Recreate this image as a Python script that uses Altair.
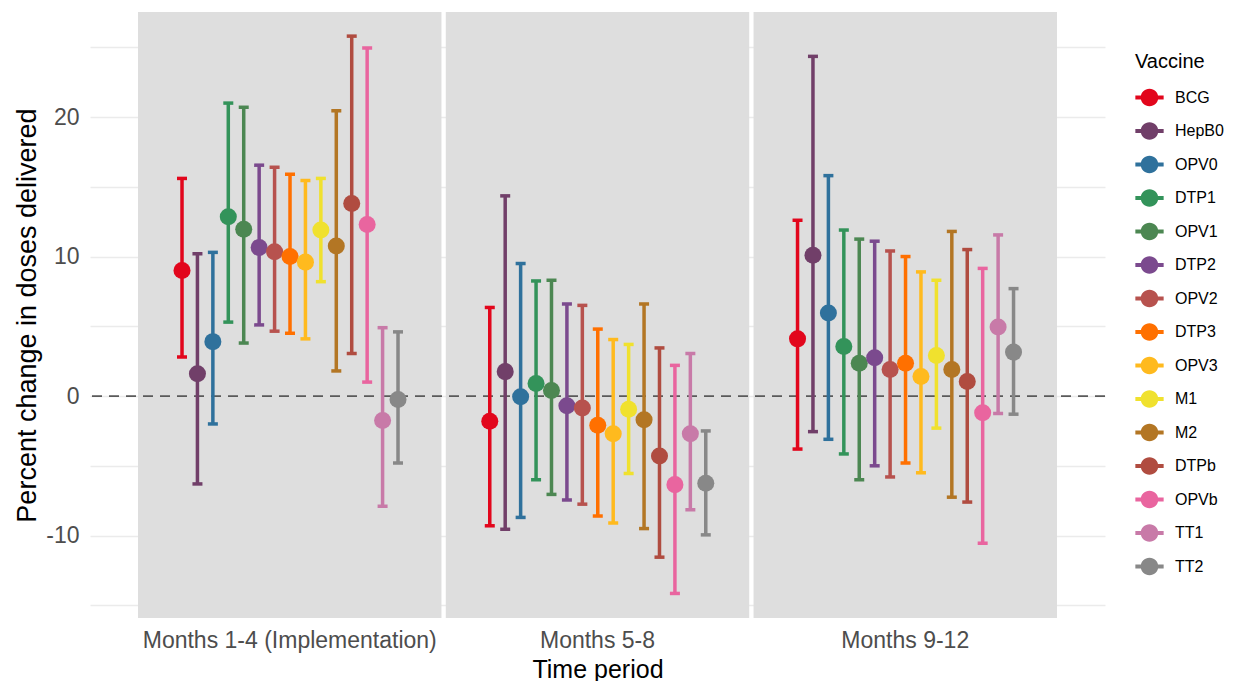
import altair as alt
import pandas as pd

periods = ["Months 1-4 (Implementation)", "Months 5-8", "Months 9-12"]
vaccines = ["BCG", "HepB0", "OPV0", "DTP1", "OPV1", "DTP2", "OPV2", "DTP3",
            "OPV3", "M1", "M2", "DTPb", "OPVb", "TT1", "TT2"]

est_p1 = [9.0, 1.6, 3.9, 12.85, 11.95, 10.65, 10.35, 10.0, 9.6, 11.9, 10.75, 13.8, 12.3, -1.75, -0.25]
lo_p1 = [2.8, -6.3, -2.0, 5.3, 3.8, 5.1, 4.65, 4.5, 4.1, 8.2, 1.8, 3.05, 1.0, -7.9, -4.8]
hi_p1 = [15.6, 10.2, 10.3, 21.0, 20.7, 16.55, 16.4, 15.9, 15.45, 15.6, 20.45, 25.8, 24.95, 4.9, 4.6]

est_p2 = [-1.8, 1.75, -0.05, 0.9, 0.4, -0.7, -0.85, -2.1, -2.7, -0.95, -1.7, -4.3, -6.35, -2.7, -6.25]
lo_p2 = [-9.3, -9.55, -8.7, -6.0, -7.05, -7.45, -7.75, -8.6, -9.1, -5.55, -9.5, -11.55, -14.15, -8.15, -9.95]
hi_p2 = [6.35, 14.35, 9.5, 8.25, 8.3, 6.6, 6.5, 4.8, 4.05, 3.7, 6.6, 3.45, 2.2, 3.05, -2.5]

est_p3 = [4.1, 10.1, 5.95, 3.55, 2.35, 2.75, 1.9, 2.35, 1.4, 2.9, 1.9, 1.05, -1.2, 4.95, 3.15]
lo_p3 = [-3.8, -2.55, -3.1, -4.15, -6.0, -5.0, -5.8, -4.8, -5.5, -2.3, -7.25, -7.6, -10.55, -1.25, -1.3]
hi_p3 = [12.6, 24.35, 15.8, 11.9, 11.25, 11.1, 10.4, 10.0, 8.9, 8.3, 11.8, 10.5, 9.15, 11.55, 7.7]

y_ticks = [-15, -10, -5, 0, 5, 10, 15, 20, 25]

# style
colors = ["#E2061C", "#713F69", "#2F719C", "#33935A", "#4C8752", "#7B4A8E", "#B7524E",
          "#FF7000", "#FFBA1E", "#F0E12E", "#B37624", "#B04C40", "#E9659F", "#C87AA8", "#888888"]
W, H = 1015, 606
FONT = "Liberation Sans"

rows = []
for p, est, lo, hi in zip(periods, [est_p1, est_p2, est_p3], [lo_p1, lo_p2, lo_p3], [hi_p1, hi_p2, hi_p3]):
    for v, e, l, h in zip(vaccines, est, lo, hi):
        rows.append({"period": p, "vaccine": v, "est": e, "lo": l, "hi": h})
df = pd.DataFrame(rows)
bg = pd.DataFrame({"period": periods})

x_scale = alt.Scale(domain=periods, paddingInner=0.014, paddingOuter=0.156)
y_scale = alt.Scale(domain=[-15.91, 27.53], nice=False, zero=False)
off_scale = alt.Scale(type="point", domain=vaccines, range=[44, 260], padding=0)
color_scale = alt.Scale(domain=vaccines, range=colors)
# stroke / fill scales take their domain from the data so that their (hidden)
# legends are not merged into the colour legend
mark_col_scale = alt.Scale(range=colors)

x_enc = alt.X("period:N", scale=x_scale, sort=periods,
              axis=alt.Axis(title="Time period", labelAngle=0, ticks=False, tickSize=0,
                            domain=False, grid=False, labelFontSize=23, labelColor="#4d4d4d",
                            labelFont=FONT, labelPadding=11, labelLimit=0,
                            titleFont=FONT, titleFontSize=25,
                            titleFontWeight="normal", titleColor="#000000",
                            titleBaseline="alphabetic", titleY=59))
y_axis = alt.Axis(title="Percent change in doses delivered", values=y_ticks,
                  labelExpr="datum.value % 10 === 0 ? '' + datum.value : ''",
                  grid=True, gridColor="#ebebeb", gridWidth=1.6, ticks=False, tickSize=0,
                  domain=False, labelFontSize=23, labelColor="#4d4d4d", labelFont=FONT,
                  labelPadding=11, titleFont=FONT, titleFontSize=27, titleFontWeight="normal",
                  titleColor="#000000", titleBaseline="alphabetic", titleAngle=270,
                  titleX=-55, titleY=H / 2)

rects = alt.Chart(bg).mark_bar(color="#dedede", width={"expr": "bandwidth('x')"}).encode(
    x=x_enc,
    y=alt.value(0),
    y2=alt.value(H),
)

zero = alt.Chart(pd.DataFrame({"z": [0]})).mark_rule(
    color="#5a5a5a", strokeWidth=1.8, strokeDash=[10, 7]
).encode(y=alt.Y("z:Q", scale=y_scale, axis=y_axis))

base = alt.Chart(df)
xo = alt.XOffset("vaccine:N", scale=off_scale, sort=vaccines)
xpos = alt.X("period:N", scale=x_scale, sort=periods)

bars = base.mark_rule(strokeWidth=3.5, opacity=1).encode(
    x=xpos,
    xOffset=xo,
    y=alt.Y("lo:Q", scale=y_scale),
    y2="hi:Q",
    stroke=alt.Stroke("vaccine:N", scale=mark_col_scale, sort=vaccines, legend=None),
)
caps_hi = base.mark_tick(size=10, thickness=3.5, opacity=1).encode(
    x=xpos,
    xOffset=xo,
    y=alt.Y("hi:Q", scale=y_scale),
    fill=alt.Fill("vaccine:N", scale=mark_col_scale, sort=vaccines, legend=None),
)
caps_lo = base.mark_tick(size=10, thickness=3.5, opacity=1).encode(
    x=xpos,
    xOffset=xo,
    y=alt.Y("lo:Q", scale=y_scale),
    fill=alt.Fill("vaccine:N", scale=mark_col_scale, sort=vaccines, legend=None),
)

sym = ("M-1,-0.14L1,-0.14L1,0.14L-1,0.14Z "
       "M-0.62,0A0.62,0.62 0 1,1 0.62,0A0.62,0.62 0 1,1 -0.62,0Z")
points = base.mark_point(filled=True, size=290, opacity=1, strokeWidth=0).encode(
    x=xpos,
    xOffset=xo,
    y=alt.Y("est:Q", scale=y_scale),
    color=alt.Color("vaccine:N", scale=color_scale, sort=vaccines,
                    legend=alt.Legend(title="Vaccine", orient="none", legendX=1045, legendY=40,
                                      symbolType=sym, symbolSize=800, symbolStrokeWidth=0,
                                      symbolOpacity=1, labelFontSize=16, labelFont=FONT,
                                      labelColor="#000000", labelOffset=11, labelLimit=0,
                                      titleFontSize=20, titleFont=FONT, titleFontWeight="normal",
                                      titleColor="#000000", titlePadding=11, rowPadding=9.5,
                                      padding=0)),
)

chart = alt.layer(rects, zero, bars, caps_hi, caps_lo, points).properties(
    width=W, height=H,
    autosize=alt.AutoSizeParams(type="none"),
    padding={"left": 82, "top": 4, "right": 120, "bottom": 66},
).configure_view(stroke=None)

chart.save("out.html", embed_options={"renderer": "svg", "actions": False})
